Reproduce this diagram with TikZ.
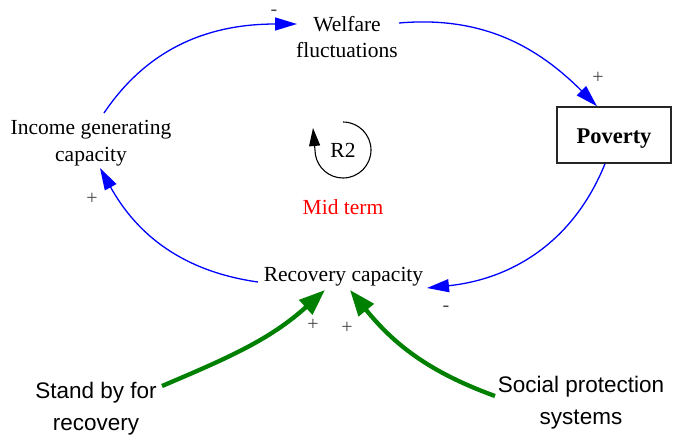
\documentclass[tikz,border=0pt]{standalone}
\usepackage{fontspec}
\setmainfont{Liberation Serif}
\newfontfamily\arialfont{Liberation Sans}
\usetikzlibrary{arrows.meta}
\definecolor{linkblue}{RGB}{0,0,255}
\definecolor{inputgreen}{RGB}{0,128,0}
\definecolor{signgray}{RGB}{70,70,70}
\tikzset{
  lbl/.style={align=center, inner sep=0pt, font=\fontsize{21.5}{26.5}\selectfont},
  slbl/.style={align=center, inner sep=0pt, font=\arialfont\fontsize{22.5}{32}\selectfont},
  stockbox/.style={draw=black!85, line width=1.5pt, minimum width=114pt, minimum height=56pt,
    inner sep=0pt, font=\fontsize{22.5}{26}\selectfont\bfseries},
  sign/.style={inner sep=1pt, text=signgray, font=\fontsize{20}{24}\selectfont},
  link/.style={draw=linkblue, line width=1.3pt, -{Triangle[length=22pt,width=13pt]}, fill=none},
  feed/.style={draw=inputgreen, line width=4.3pt, -{Triangle[length=26pt,width=19pt]}},
  loopmark/.style={draw=black, line width=1.1pt, -{Triangle[length=18pt,width=11pt]}}
}
\begin{document}
\begin{tikzpicture}[x=1pt,y=1pt]
\path[use as bounding box] (0,0) rectangle (673,-440);

% variables
\node[lbl] (wf) at (347,-37) {Welfare\\fluctuations};
\node[lbl] (inc) at (91,-143) {Income generating\\capacity};
\node[lbl] (rec) at (343.5,-277) {Recovery capacity};
\node[stockbox] (pov) at (614,-135) {\raisebox{-4pt}[\height][\depth]{Poverty}};
\node[slbl] (sb) at (96,-409) {Stand by for\\recovery};
\node[slbl] (sp) at (581,-403) {Social protection\\systems};

% loop label
\node[lbl] (r2) at (343,-150) {R2};
\node[lbl, text=red] (mid) at (343,-207) {Mid term};
\draw[loopmark] ([shift={(0,28)}]r2.center) arc[start angle=90, end angle=-170, radius=28]
  -- ([shift={(-30,22)}]r2.center);

% causal links of the loop
\draw[link] ([shift={(13,30)}]inc.center) to[out=56, in=180] ([shift={(-50,13)}]wf.center);
\draw[link] ([shift={(52,14)}]wf.center) to[out=5, in=135] ([xshift=-17pt]pov.north);
\draw[link] ([xshift=-9pt]pov.south) to[out=-112, in=6] ([shift={(83.5,-11)}]rec.center);
\draw[link] ([shift={(-85.5,-5)}]rec.center) to[out=172, in=-61] ([shift={(9,-25)}]inc.center);

% external inputs
\draw[feed] ([shift={(66,23)}]sb.center) to[out=23, in=-138] ([shift={(-18.5,-13)}]rec.center);
\draw[feed] ([shift={(-86,7)}]sp.center) to[out=160, in=-51] ([shift={(6.5,-13)}]rec.center);

% polarities
\node[sign] (p1) at (274,-13) {-};
\node[sign] (p2) at (598,-78) {+};
\node[sign] (p3) at (446,-309) {-};
\node[sign] (p4) at (92,-199) {+};
\node[sign] (p5) at (313,-325) {+};
\node[sign] (p6) at (347,-328) {+};
\end{tikzpicture}
\end{document}
